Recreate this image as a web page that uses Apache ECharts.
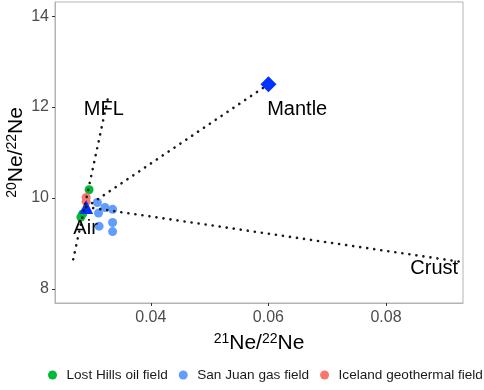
<!DOCTYPE html>
<html>
<head>
<meta charset="utf-8">
<script src="https://cdn.jsdelivr.net/npm/echarts@6/dist/echarts.min.js"></script>
<style>
  html, body { margin: 0; padding: 0; background: #fff; }
  #main { width: 484px; height: 390px; }
</style>
</head>
<body>
<div id="main"></div>
<script>
// samples: [21Ne/22Ne, 20Ne/22Ne]
var lostHills = [[0.0295, 10.18], [0.0284, 9.65], [0.0281, 9.58]];
var sanJuan = [[0.0309, 9.90], [0.0322, 9.79], [0.0335, 9.75], [0.0311, 9.67],
               [0.0335, 9.46], [0.0335, 9.26], [0.0312, 9.38]];
var iceland = [[0.0290, 10.01], [0.0290, 9.92]];

// end members
var air = [[0.029, 9.8]];
var mantle = [[0.060, 12.5]];

// mixing / fractionation lines
var mflLine = [[0.0268, 8.65], [0.0328, 12.25]];
var mantleLine = [[0.029, 9.8], [0.060, 12.5]];
var crustLine = [[0.029, 9.8], [0.0925, 8.6]];

// text labels
var labelText = ['MFL', 'Mantle', 'Air', 'Crust'];
var labelAt = [[0.0320, 11.95], [0.0649, 11.95], [0.0289, 9.32], [0.0882, 8.46]];

var xTicks = [0.04, 0.06, 0.08];
var yTicks = [8, 10, 12, 14];

var dotLine = function (d) {
  return {
    type: 'line', data: d, symbol: 'none', silent: true, z: 5,
    lineStyle: { color: '#1a1a1a', width: 2.6, type: [0.1, 7], cap: 'round' }
  };
};

var nameRich = {
  s: { fontSize: 14, fontFamily: 'Liberation Sans', color: '#000', verticalAlign: 'top', lineHeight: 23, padding: [0, 0, 8, 0] },
  n: { fontSize: 21, fontFamily: 'Liberation Sans', color: '#000', lineHeight: 23 }
};

var axisCommon = {
  splitLine: { show: false },
  axisLine: { show: true, onZero: false, lineStyle: { color: '#b3b3b3', width: 1 } },
  axisTick: { show: true, length: 3, lineStyle: { color: '#333' } },
  axisLabel: { color: '#4d4d4d', fontSize: 16, fontFamily: 'Liberation Sans' }
};

var option = {
  animation: false,
  backgroundColor: '#fff',
  grid: { left: 55, right: 21, top: 2, bottom: 87, show: true, borderColor: '#b3b3b3', borderWidth: 1,
          containLabel: false, outerBoundsMode: 'none' },
  xAxis: Object.assign({}, axisCommon, {
    type: 'value', min: 0.0237, max: 0.0931,
    axisTick: Object.assign({}, axisCommon.axisTick, { customValues: xTicks }),
    axisLabel: Object.assign({}, axisCommon.axisLabel, { customValues: xTicks, margin: 7 }),
    name: '{s|21}{n|Ne/}{s|22}{n|Ne}',
    nameLocation: 'middle', nameGap: 29,
    nameTextStyle: { rich: nameRich }
  }),
  yAxis: Object.assign({}, axisCommon, {
    type: 'value', min: 7.69, max: 14.31,
    axisTick: Object.assign({}, axisCommon.axisTick, { customValues: yTicks }),
    axisLabel: Object.assign({}, axisCommon.axisLabel, { customValues: yTicks, margin: 6 }),
    name: '{s|20}{n|Ne/}{s|22}{n|Ne}',
    nameLocation: 'middle', nameGap: 27, nameRotate: 90, nameMoveOverlap: false,
    nameTextStyle: { rich: nameRich }
  }),
  legend: {
    data: ['Lost Hills oil field', 'San Juan gas field', 'Iceland geothermal field'],
    bottom: 3, left: 43, width: 440, icon: 'circle', itemWidth: 18, itemHeight: 9, itemGap: 11,
    textStyle: { fontSize: 13.6, color: '#1a1a1a', fontFamily: 'Liberation Sans' }
  },
  series: [
    { name: 'Lost Hills oil field', type: 'scatter', data: lostHills, symbolSize: 9, z: 3,
      itemStyle: { color: '#00BA38', opacity: 1 } },
    { name: 'San Juan gas field', type: 'scatter', data: sanJuan, symbolSize: 9, z: 3,
      itemStyle: { color: '#619CFF', opacity: 1 } },
    { name: 'Iceland geothermal field', type: 'scatter', data: iceland, symbolSize: 9, z: 3,
      itemStyle: { color: '#F8766D', opacity: 1 } },
    { name: 'air', type: 'scatter', data: air, symbol: 'triangle', symbolSize: 14, z: 4,
      itemStyle: { color: '#0033ff', opacity: 1 } },
    { name: 'mantle', type: 'scatter', data: mantle, symbol: 'diamond', symbolSize: 16, z: 4,
      itemStyle: { color: '#0033ff', opacity: 1 } },
    dotLine(mflLine),
    dotLine(mantleLine),
    dotLine(crustLine),
    { name: 'labels', type: 'scatter', symbolSize: 0, silent: true, z: 6,
      itemStyle: { opacity: 1 },
      data: labelAt.map(function (p, i) { return { value: p, name: labelText[i] }; }),
      label: { show: true, position: 'inside', formatter: '{b}', color: '#000', fontSize: 20,
               fontFamily: 'Liberation Sans' } }
  ]
};

var mychart = echarts.init(document.getElementById('main'));
mychart.setOption(option);
</script>
</body>
</html>
